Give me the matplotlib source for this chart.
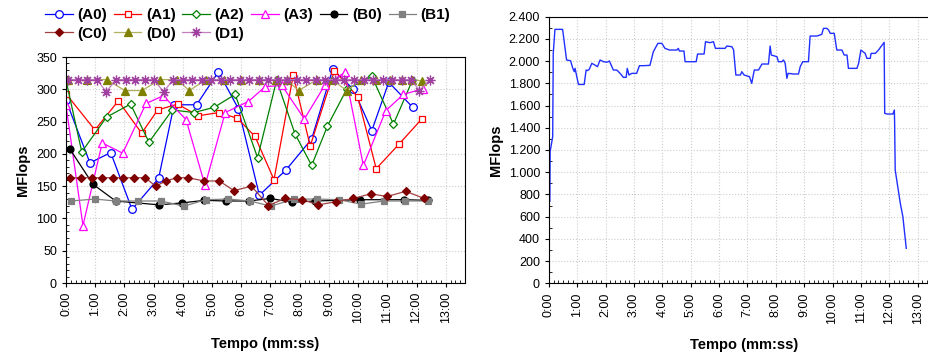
import matplotlib
matplotlib.use("Agg")
import matplotlib.pyplot as plt
from matplotlib.ticker import MultipleLocator, FuncFormatter

plt.rcParams['font.family'] = ['Liberation Sans', 'DejaVu Sans']

# left chart: time in minutes, MFlops per process
a0_t = [0.0, 0.82, 1.53, 2.26, 3.17, 3.70, 4.47, 5.22, 5.90, 6.62, 7.53, 8.41, 9.13, 9.84, 10.47, 11.05, 11.87]
a0_v = [283, 186, 202, 114, 162, 276, 276, 327, 270, 136, 175, 223, 331, 300, 236, 311, 272]
a1_t = [0.0, 0.99, 1.79, 2.59, 3.14, 3.82, 4.53, 5.24, 5.87, 6.47, 7.12, 7.78, 8.36, 9.19, 9.99, 10.62, 11.40, 12.18]
a1_v = [293, 237, 282, 232, 268, 277, 259, 264, 255, 227, 160, 322, 212, 329, 288, 177, 215, 254]
a2_t = [0.0, 0.54, 1.39, 2.21, 2.84, 3.64, 4.38, 5.07, 5.79, 6.56, 7.21, 7.84, 8.41, 8.95, 9.61, 10.47, 11.21, 11.86]
a2_v = [314, 203, 257, 277, 218, 268, 264, 272, 292, 194, 314, 231, 182, 243, 300, 320, 246, 314]
a3_t = [0.0, 0.58, 1.24, 1.94, 2.74, 3.33, 4.11, 4.76, 5.45, 6.24, 6.82, 7.39, 8.16, 8.87, 9.55, 10.18, 10.95, 11.55, 12.22]
a3_v = [275, 89, 217, 201, 278, 290, 253, 151, 264, 281, 304, 306, 254, 307, 326, 182, 267, 292, 301]
b0_t = [0.14, 0.92, 1.70, 3.19, 3.96, 4.74, 5.47, 6.28, 6.99, 7.75, 8.53, 10.07, 11.58, 12.41]
b0_v = [207, 153, 127, 121, 124, 128, 127, 127, 131, 125, 127, 129, 129, 128]
b1_t = [0.17, 0.99, 1.70, 2.45, 3.25, 4.04, 4.79, 5.56, 6.30, 7.01, 7.81, 8.61, 9.35, 10.10, 10.87, 11.61, 12.41]
b1_v = [127, 130, 127, 127, 127, 119, 129, 130, 127, 119, 130, 130, 129, 122, 127, 127, 127]
c0_t = [0.14, 0.50, 0.88, 1.24, 1.60, 1.96, 2.34, 2.71, 3.07, 3.42, 3.79, 4.17, 4.74, 5.25, 5.75, 6.35,
        6.93, 7.50, 8.09, 8.64, 9.25, 9.84, 10.43, 11.00, 11.63, 12.26]
c0_v = [163, 163, 163, 163, 163, 163, 163, 163, 150, 158, 163, 163, 158, 158, 143, 150,
        120, 131, 129, 121, 126, 131, 138, 134, 142, 131]
d0_t = [0.08, 0.72, 1.39, 2.02, 2.60, 3.22, 3.80, 4.22, 4.80, 5.40, 6.00, 6.60, 7.20, 7.55, 7.96,
        8.60, 9.10, 9.61, 10.10, 10.60, 11.10, 11.50, 11.84, 12.18]
d0_v = [315, 315, 315, 298, 298, 315, 315, 298, 315, 315, 315, 315, 315, 315, 298,
        315, 315, 298, 315, 315, 315, 315, 315, 313]
d1_t = [0.08, 0.41, 0.73, 1.06, 1.38, 1.71, 2.04, 2.36, 2.69, 3.01, 3.34, 3.67, 3.99, 4.32, 4.64, 4.97,
        5.30, 5.62, 5.95, 6.27, 6.60, 6.93, 7.25, 7.58, 7.90, 8.23, 8.56, 8.88, 9.21, 9.53, 9.86, 10.19,
        10.51, 10.84, 11.16, 11.49, 11.82, 12.10, 12.47]
d1_v = [315, 315, 315, 315, 296, 315, 315, 315, 315, 315, 296, 315, 315, 315, 315, 315,
        315, 315, 315, 315, 315, 315, 315, 315, 315, 315, 315, 315, 315, 315, 315, 315,
        315, 315, 315, 315, 315, 298, 315]

# right chart: total MFlops
tot_t = [0.03, 0.04, 0.13, 0.15, 0.21, 0.48, 0.62, 0.76, 0.84, 0.89, 0.92, 0.98, 1.04, 1.24, 1.31, 1.36,
         1.42, 1.51, 1.62, 1.71, 1.80, 1.92, 2.04, 2.13, 2.27, 2.39, 2.45, 2.56, 2.62, 2.72, 2.76, 2.82,
         2.92, 3.09, 3.19, 3.33, 3.56, 3.68, 3.84, 3.98, 4.09, 4.25, 4.51, 4.56, 4.60, 4.76, 4.80, 5.19,
         5.24, 5.47, 5.52, 5.68, 5.80, 5.87, 6.21, 6.27, 6.45, 6.51, 6.59, 6.75, 6.80, 6.88, 7.07, 7.15,
         7.24, 7.39, 7.51, 7.74, 7.80, 7.84, 8.04, 8.09, 8.21, 8.27, 8.33, 8.39, 8.43, 8.62, 8.80, 8.86,
         8.95, 9.15, 9.21, 9.45, 9.62, 9.68, 9.80, 9.86, 9.92, 10.06, 10.15, 10.33, 10.41, 10.51, 10.56,
         10.86, 10.92, 11.00, 11.15, 11.21, 11.33, 11.36, 11.51, 11.62, 11.82, 11.84, 11.92, 12.13, 12.18,
         12.19, 12.21, 12.39, 12.48, 12.60]
tot_v = [740, 1185, 1320, 2070, 2286, 2286, 2010, 2004, 1935, 1905, 1935, 1860, 1790, 1790, 1920, 1915,
         1926, 1980, 1965, 1950, 2010, 1995, 1990, 2001, 1920, 1920, 1905, 1875, 1854, 1854, 1935, 1875,
         1890, 1890, 1959, 1959, 1962, 2085, 2160, 2160, 2115, 2100, 2100, 2115, 2091, 2091, 1995, 1995,
         2064, 2064, 2175, 2166, 2175, 2115, 2115, 2136, 2130, 2100, 1875, 1875, 1905, 1875, 1860, 1800,
         1920, 1920, 1974, 1974, 2136, 2055, 2040, 1995, 1995, 2010, 1980, 1845, 1890, 1884, 1884, 1950,
         1995, 1995, 2226, 2226, 2241, 2295, 2295, 2280, 2250, 2250, 2100, 2100, 2055, 2055, 1935,
         1935, 1980, 2100, 2070, 2025, 2025, 2070, 2070, 2100, 2169, 1530, 1524, 1524, 1560,
         1440, 1020, 720, 600, 315]

series = [
    ("(A0)", a0_t, a0_v, dict(color="#0000ff", marker="o", mfc="white", mec="#0000ff", ms=5.5)),
    ("(A1)", a1_t, a1_v, dict(color="#ff0000", marker="s", mfc="white", mec="#ff0000", ms=5)),
    ("(A2)", a2_t, a2_v, dict(color="#008000", marker="D", mfc="white", mec="#008000", ms=3.8)),
    ("(A3)", a3_t, a3_v, dict(color="#ff00ff", marker="^", mfc="white", mec="#ff00ff", ms=6)),
    ("(B0)", b0_t, b0_v, dict(color="#000000", marker="o", mfc="#000000", mec="#000000", ms=5)),
    ("(B1)", b1_t, b1_v, dict(color="#808080", marker="s", mfc="#808080", mec="#808080", ms=5)),
    ("(C0)", c0_t, c0_v, dict(color="#a04040", marker="D", mfc="#800000", mec="#800000", ms=4)),
    ("(D0)", d0_t, d0_v, dict(color="#b0b060", marker="^", mfc="#808000", mec="#808000", ms=6)),
    ("(D1)", d1_t, d1_v, dict(color="#c080c0", marker=(8, 2, 0), mfc="#a040a0", mec="#a040a0", ms=7)),
]

fig = plt.figure(figsize=(9.29, 3.56), dpi=100)
ax1 = fig.add_axes([66 / 929, 1 - 283 / 356, 399 / 929, 226 / 356])
ax2 = fig.add_axes([549 / 929, 1 - 283.3 / 356, 391 / 929, 266.6 / 356])

handles = {}
for name, t, v, st in series:
    ln, = ax1.plot(t, v, lw=0.9, mew=0.9, label=name, **st)
    handles[name] = ln

ax2.plot(tot_t, tot_v, color="#2030ff", lw=1.0)


def mmss(x, pos):
    return "%d:00" % round(x)


for ax in (ax1, ax2):
    ax.xaxis.set_major_locator(MultipleLocator(1))
    ax.xaxis.set_minor_locator(MultipleLocator(1 / 6))
    ax.xaxis.set_major_formatter(FuncFormatter(mmss))
    ax.grid(True, which="major", color="#cccccc", ls=":", lw=0.8)
    ax.tick_params(axis="x", which="major", labelrotation=90, labelsize=9, direction="out", length=3)
    ax.tick_params(axis="y", which="major", labelsize=9, direction="out", length=3)
    ax.tick_params(which="minor", direction="in", length=2)
    ax.set_xlabel("Tempo (mm:ss)", fontsize=10.5, fontweight="bold", labelpad=10)
    ax.set_ylabel("MFlops", fontsize=10.5, fontweight="bold")
    for s in ax.spines.values():
        s.set_linewidth(0.8)

ax1.set_xlim(0, 13.66)
ax1.set_ylim(0, 350)
ax1.yaxis.set_major_locator(MultipleLocator(50))
ax1.yaxis.set_minor_locator(MultipleLocator(10))

ax2.set_xlim(0, 13.79)
ax2.set_ylim(0, 2400)
ax2.yaxis.set_major_locator(MultipleLocator(200))
ax2.yaxis.set_minor_locator(MultipleLocator(100))
ax2.yaxis.set_major_formatter(FuncFormatter(lambda v, p: f"{int(v):,}".replace(",", ".")))

order = ["(A0)", "(C0)", "(A1)", "(D0)", "(A2)", "(D1)", "(A3)", "(B0)", "(B1)"]
fig.legend([handles[k] for k in order], order, loc="upper left", bbox_to_anchor=(42 / 929, 1 - 5 / 356),
           ncol=6, frameon=False, prop={"weight": "bold", "size": 11}, handlelength=1.8,
           handletextpad=0.3, columnspacing=0.45, labelspacing=0.3, borderaxespad=0, borderpad=0.2)

fig.savefig("out.png", dpi=100)
